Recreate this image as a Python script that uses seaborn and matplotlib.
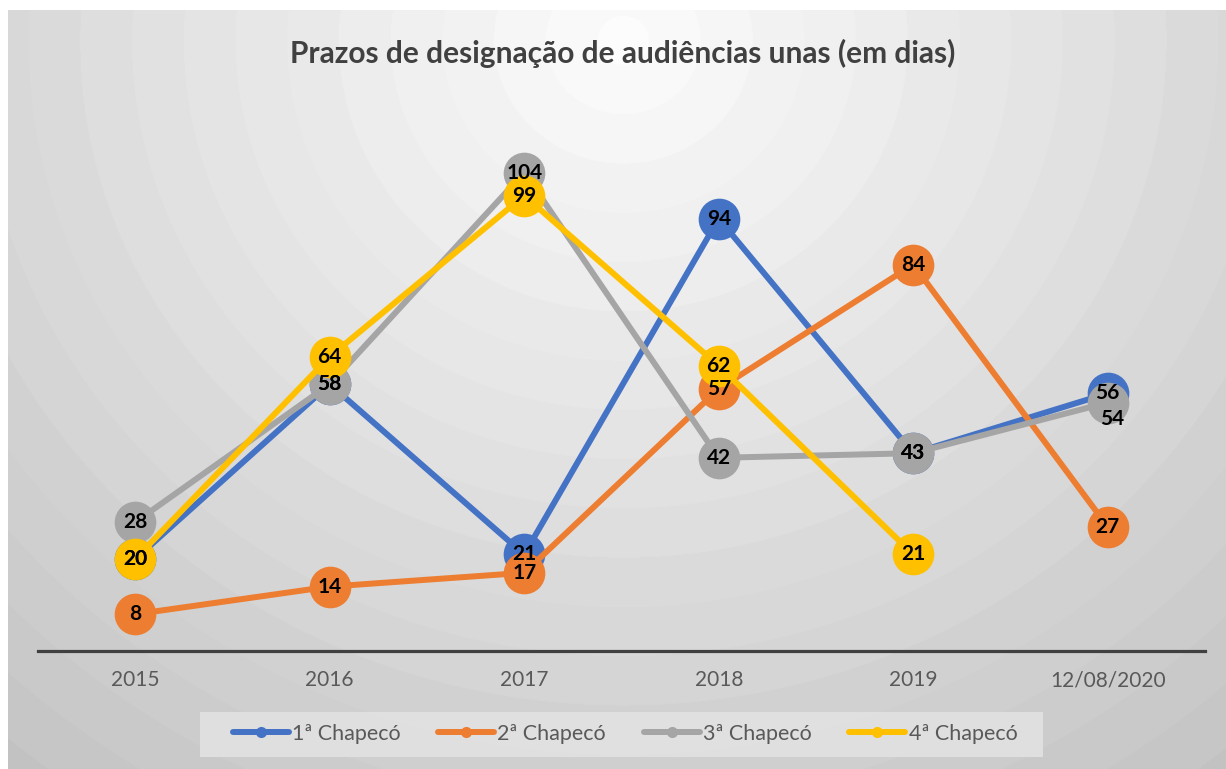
import numpy as np
import pandas as pd
import matplotlib
matplotlib.use("Agg")
import matplotlib.pyplot as plt
import seaborn as sns
from matplotlib.lines import Line2D
from matplotlib.patches import Rectangle

categories = ["2015", "2016", "2017", "2018", "2019", "12/08/2020"]
series_names = ["1ª Chapecó", "2ª Chapecó", "3ª Chapecó", "4ª Chapecó"]
vara1 = [20, 58, 21, 94, 43, 56]
vara2 = [8, 14, 17, 57, 84, 27]
vara3 = [28, 58, 104, 42, 43, 54]
vara4 = [20, 64, 99, 62, 21, np.nan]
title = "Prazos de designação de audiências unas (em dias)"

colors = ["#4472C4", "#ED7D31", "#A5A5A5", "#FFC000"]
all_values = [vara1, vara2, vara3, vara4]

rows = []
for name, vals in zip(series_names, all_values):
    for i, (c, v) in enumerate(zip(categories, vals)):
        rows.append({"serie": name, "pos": i, "cat": c, "valor": v})
df = pd.DataFrame(rows)

sns.set_theme(style="white")
plt.rcParams["font.family"] = ["Lato", "DejaVu Sans"]

W, H = 1226, 769
fig = plt.figure(figsize=(W / 100, H / 100), dpi=100, facecolor="white")

# radial gradient background
bg = fig.add_axes([8 / W, 0, 1 - 8 / W, 1 - 10 / H])
bw, bh = W - 8, H - 10
yy, xx = np.mgrid[0:bh, 0:bw]
cx, cy = 615, 30
r = np.sqrt((xx - cx) ** 2 + ((yy - cy) * 1.05) ** 2)
val = 252 - 0.058 * r
val = np.round(val / 3) * 3
val = np.clip(val, 192, 252) / 255.0
bg.imshow(val, cmap="gray", vmin=0, vmax=1, aspect="auto", interpolation="bilinear")
bg.set_axis_off()

ax = fig.add_axes([38 / W, 1 - 651 / H, (1205 - 38) / W, (651 - 99) / H])
ax.set_facecolor((0, 0, 0, 0))
ax.patch.set_alpha(0)

for k, (name, col) in enumerate(zip(series_names, colors)):
    sub = df[df["serie"] == name].dropna()
    sns.lineplot(data=sub, x="pos", y="valor", ax=ax, color=col, linewidth=4.3,
                 marker="o", markersize=30, markeredgewidth=0, sort=False,
                 label=name, zorder=2 + k, legend=False)

# data labels
for k, (name, vals) in enumerate(zip(series_names, all_values)):
    for i, v in enumerate(vals):
        if np.isnan(v):
            continue
        dx, dy = 0, 0
        if name == "3ª Chapecó" and i == 5:
            dx, dy = 4, -16
        ax.annotate(f"{int(v)}", (i, v), xytext=(dx * 0.72, dy * 0.72),
                    textcoords="offset points", ha="center", va="center",
                    fontsize=15, fontweight="bold", color="black", zorder=20)

ax.set_xlim(-0.5, len(categories) - 0.5)
ax.set_ylim(0, 120)
ax.set_xticks(range(len(categories)))
ax.set_xticklabels(categories, fontsize=15, color="#595959")
ax.tick_params(axis="x", length=0, pad=14)
ax.set_yticks([])
ax.set_xlabel("")
ax.set_ylabel("")
for s in ["left", "right", "top"]:
    ax.spines[s].set_visible(False)
ax.spines["bottom"].set_color("#404040")
ax.spines["bottom"].set_linewidth(2.3)
ax.spines["bottom"].set_zorder(1)

fig.text(623 / W, 1 - 53 / H, title, ha="center", va="center",
         fontsize=21.5, fontweight="bold", color="#404040")

# legend background box
fig.patches.append(Rectangle((200 / W, 1 - 757 / H), (1043 - 200) / W, 45 / H,
                             transform=fig.transFigure, facecolor="#e3e3e3",
                             alpha=0.85, edgecolor="none", zorder=1))

handles = [Line2D([0], [0], color=c, lw=4.3, marker="o", markersize=8, markeredgewidth=0)
           for c in colors]
leg = fig.legend(handles, series_names, loc="center", bbox_to_anchor=(625 / W, 1 - 734 / H),
                 ncol=4, frameon=False, fontsize=15.5, handlelength=2.6, handletextpad=0.15,
                 columnspacing=1.75, borderpad=0.55)
for t in leg.get_texts():
    t.set_color("#595959")

fig.savefig("out.png", dpi=100, facecolor="white")
